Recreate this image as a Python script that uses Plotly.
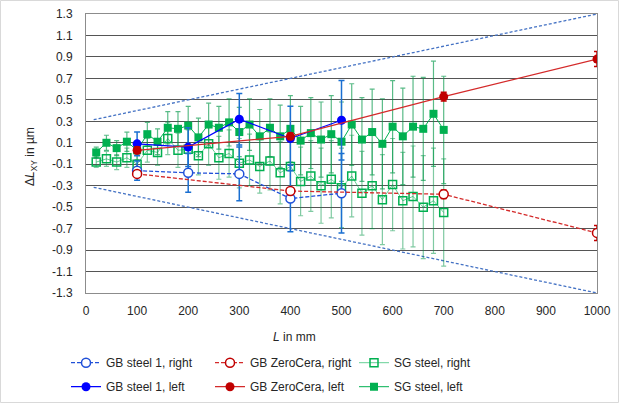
import plotly.graph_objects as go

# ---------------- data ----------------
L_GB1 = [100, 200, 300, 400, 500]
gb1_right = [-0.16, -0.18, -0.19, -0.42, -0.37]
gb1_right_err = [0.09, 0.18, 0.25, 0.31, 0.37]
gb1_left = [0.09, 0.06, 0.32, 0.14, 0.31]
gb1_left_err = [0.11, 0.18, 0.24, 0.30, 0.37]

L_ZC = [100, 400, 700, 1000]
zc_right = [-0.19, -0.35, -0.38, -0.74]
zc_left = [0.03, 0.16, 0.53, 0.88]
zc_err = [0.03, 0.03, 0.04, 0.07]

L_SG = [20, 40, 60, 80, 100, 120, 140, 160, 180, 200, 220, 240, 260, 280, 300,
        320, 340, 360, 380, 400, 420, 440, 460, 480, 500, 520, 540, 560, 580,
        600, 620, 640, 660, 680, 700]
sg_left = [0.01, 0.10, 0.05, 0.11, 0.03, 0.18, 0.11, 0.24, 0.23, 0.26, 0.15,
           0.27, 0.24, 0.29, 0.20, 0.27, 0.16, 0.24, 0.16, 0.23, 0.12, 0.19,
           0.13, 0.18, 0.11, 0.27, 0.13, 0.20, 0.09, 0.25, 0.16, 0.25, 0.23,
           0.37, 0.22]
sg_right = [-0.08, -0.05, -0.08, -0.04, -0.10, 0.03, 0.01, 0.14, 0.03, 0.04,
            -0.02, 0.09, -0.04, 0.00, -0.09, -0.06, -0.12, -0.07, -0.18, -0.12,
            -0.26, -0.21, -0.30, -0.24, -0.32, -0.21, -0.37, -0.30, -0.43,
            -0.29, -0.44, -0.40, -0.50, -0.44, -0.55]
sg_err = [0.05, 0.07, 0.07, 0.09, 0.09, 0.11, 0.12, 0.15, 0.16, 0.18, 0.18,
          0.20, 0.20, 0.22, 0.23, 0.24, 0.25, 0.27, 0.29, 0.31, 0.32, 0.33,
          0.35, 0.36, 0.37, 0.38, 0.39, 0.40, 0.42, 0.43, 0.45, 0.47, 0.48,
          0.49, 0.50]

L_limit = [15, 1000]
limit_upper = [0.315, 1.3]
limit_lower = [-0.315, -1.3]

y_tickvals = [-1.3, -1.1, -0.9, -0.7, -0.5, -0.3, -0.1, 0.1, 0.3, 0.5, 0.7, 0.9, 1.1, 1.3]
y_ticktext = ["-1.3", "-1.1", "-0.9", "-0.7", "-0.5", "-0.3", "-0.1", "0.1", "0.3",
              "0.5", "0.7", "0.9", "1.1", "1.3"]
x_tickvals = [0, 100, 200, 300, 400, 500, 600, 700, 800, 900, 1000]

# ---------------- styling ----------------
FONT = "Liberation Sans, Arial, sans-serif"
TXT = "#262626"
BLUE = "#0000FF"
BLUE_OPEN = "#2050D8"
BLUE_ERR = "#1A6FD1"
RED = "#C00000"
RED_LINE = "#D42A2A"
GREEN = "#00B050"
GREEN_ERR = "rgba(0,150,70,0.65)"
LIMIT = "#4472C4"

W, H = 619, 403
ML, MR, MT, MB = 86, 22, 14, 110
PW, PH = W - ML - MR, H - MT - MB


def px_x(p):
    return (p - ML) / PW


def px_y(p):
    return (H - MB - p) / PH


fig = go.Figure()

# limit lines
for ylim in (limit_upper, limit_lower):
    fig.add_trace(go.Scatter(x=L_limit, y=ylim, mode="lines", showlegend=False,
                             line=dict(color=LIMIT, width=1.3, dash="3px,2px"),
                             hoverinfo="skip"))

# SG steel right
fig.add_trace(go.Scatter(
    x=L_SG, y=sg_right, mode="lines+markers", name="SG steel, right",
    legend="legend", legendrank=3,
    line=dict(color="rgba(0,176,80,0.6)", width=1),
    marker=dict(symbol="square-open", size=8, color=GREEN, line=dict(width=1.5, color=GREEN)),
    error_y=dict(type="data", array=sg_err, color="rgba(0,150,70,0.5)", thickness=1.2, width=2.5)))
# SG steel left
fig.add_trace(go.Scatter(
    x=L_SG, y=sg_left, mode="lines+markers", name="SG steel, left",
    legend="legend2", legendrank=3,
    line=dict(color=GREEN, width=1),
    marker=dict(symbol="square", size=8, color=GREEN),
    error_y=dict(type="data", array=sg_err, color=GREEN_ERR, thickness=1.2, width=2.5)))

# GB steel 1 right
fig.add_trace(go.Scatter(
    x=L_GB1, y=gb1_right, mode="lines+markers", name="GB steel 1, right",
    legend="legend", legendrank=1,
    line=dict(color=BLUE_OPEN, width=1.3, dash="4px,2px"),
    marker=dict(symbol="circle", size=9, color="white", line=dict(width=1.5, color=BLUE_OPEN)),
    error_y=dict(type="data", array=gb1_right_err, color=BLUE_ERR, thickness=1.5, width=3)))
# GB steel 1 left
fig.add_trace(go.Scatter(
    x=L_GB1, y=gb1_left, mode="lines+markers", name="GB steel 1, left",
    legend="legend2", legendrank=1,
    line=dict(color=BLUE, width=1.2),
    marker=dict(symbol="circle", size=9, color=BLUE),
    error_y=dict(type="data", array=gb1_left_err, color=BLUE_ERR, thickness=1.5, width=3)))

# GB ZeroCera right
fig.add_trace(go.Scatter(
    x=L_ZC, y=zc_right, mode="lines+markers", name="GB ZeroCera, right",
    legend="legend", legendrank=2,
    line=dict(color=RED_LINE, width=1.3, dash="4px,2px"),
    marker=dict(symbol="circle", size=9, color="white", line=dict(width=1.5, color=RED)),
    error_y=dict(type="data", array=zc_err, color=RED, thickness=1.5, width=3)))
# GB ZeroCera left
fig.add_trace(go.Scatter(
    x=L_ZC, y=zc_left, mode="lines+markers", name="GB ZeroCera, left",
    legend="legend2", legendrank=2,
    line=dict(color=RED_LINE, width=1.3),
    marker=dict(symbol="circle", size=9, color=RED),
    error_y=dict(type="data", array=zc_err, color=RED, thickness=1.5, width=3)))

legend_common = dict(orientation="h", xanchor="left", yanchor="middle",
                     x=px_x(66), entrywidth=99, entrywidthmode="pixels",
                     bgcolor="rgba(0,0,0,0)", itemwidth=30,
                     font=dict(family=FONT, size=12, color=TXT), traceorder="normal")

fig.update_layout(
    width=W, height=H,
    margin=dict(l=ML, r=MR, t=MT, b=MB, pad=0, autoexpand=False),
    paper_bgcolor="white", plot_bgcolor="white",
    font=dict(family=FONT, size=12, color=TXT),
    legend=dict(legend_common, y=px_y(362.7)),
    legend2=dict(legend_common, y=px_y(386.7)),
    xaxis=dict(range=[0, 1000], tickvals=x_tickvals, showgrid=False, zeroline=False,
               showline=True, linecolor="#8c8c8c", linewidth=1, mirror=True,
               ticks="", ticklabelstandoff=7,
               tickfont=dict(family=FONT, size=12, color=TXT)),
    yaxis=dict(range=[-1.3, 1.3], tickvals=y_tickvals, ticktext=y_ticktext,
               showgrid=True, gridcolor="#555555", gridwidth=1, zeroline=False,
               showline=True, linecolor="#8c8c8c", linewidth=1, mirror=True,
               ticks="", ticklabelstandoff=10,
               tickfont=dict(family=FONT, size=12, color=TXT)),
    annotations=[
        dict(text="<i>L</i> in mm", x=px_x(294), y=px_y(337), xref="paper", yref="paper",
             showarrow=False, xanchor="center", yanchor="middle",
             font=dict(family=FONT, size=12, color=TXT)),
        dict(text="Δ<i>L</i><sub>XY</sub> in µm", x=px_x(31), y=px_y(157), xref="paper",
             yref="paper", showarrow=False, xanchor="center", yanchor="middle",
             textangle=-90, font=dict(family=FONT, size=12, color=TXT)),
    ],
    shapes=[dict(type="rect", xref="paper", yref="paper",
                 x0=px_x(0.5), x1=px_x(618.5), y0=px_y(402.5), y1=px_y(0.5),
                 line=dict(color="#d9d9d9", width=1), layer="below")],
)

fig.write_html("out.html")
